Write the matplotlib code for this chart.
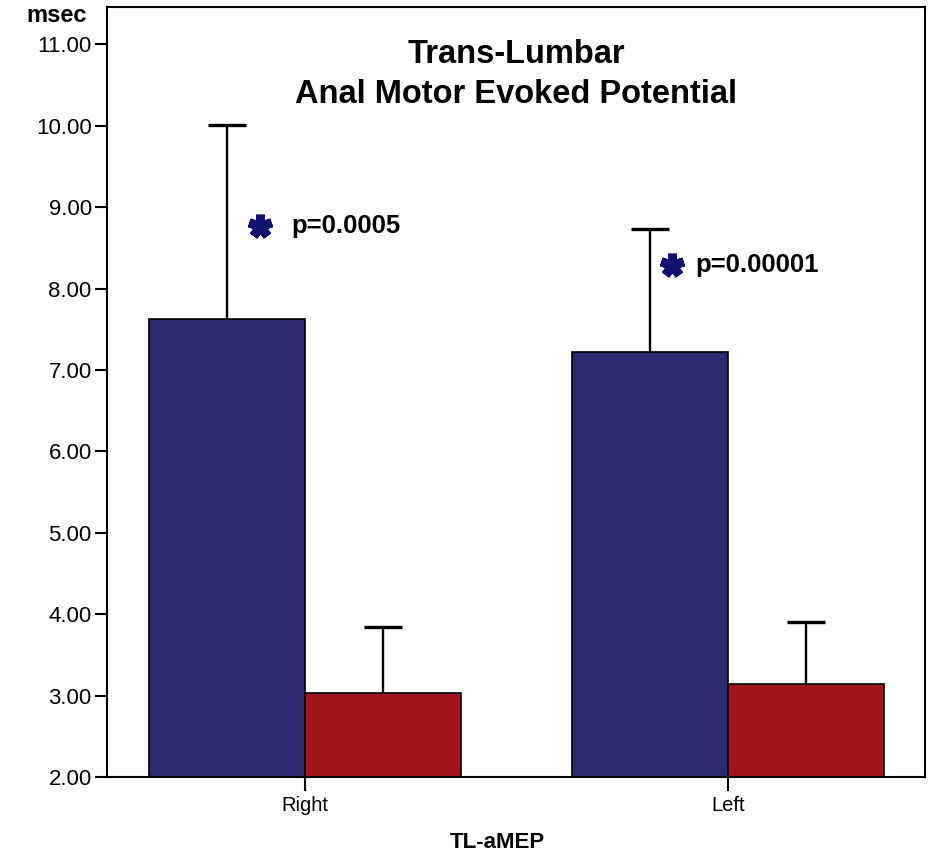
import numpy as np
import matplotlib
matplotlib.use("Agg")
from matplotlib import pyplot as plt

plt.rcParams['font.family'] = ['Liberation Sans', 'DejaVu Sans']

# data
sides = ['Right', 'Left']
pre_mean = [7.63, 7.22]     # blue bars
pre_err = [2.38, 1.51]
post_mean = [3.03, 3.14]    # red bars
post_err = [0.81, 0.76]
p_labels = ['p=0.0005', 'p=0.00001']
p_y = [8.77, 8.29]
yticks = [2, 3, 4, 5, 6, 7, 8, 9, 10, 11]

blue = '#2a2a70'
red = '#a3151b'
navy = '#10106e'

fig = plt.figure(figsize=(9.44, 8.57), dpi=100)
ax = fig.add_axes([107/944, 80/857, 818/944, 770/857])

x = np.arange(len(sides))
w = 0.369
ax.bar(x - w/2, pre_mean, w, color=blue, edgecolor='black', linewidth=1.2, zorder=2)
ax.bar(x + w/2, post_mean, w, color=red, edgecolor='black', linewidth=1.2, zorder=2)
# upper error bars only, hide the lower cap
for xs, m, e in [(x - w/2, pre_mean, pre_err), (x + w/2, post_mean, post_err)]:
    eb = ax.errorbar(xs, m, yerr=[np.zeros(2), e], fmt='none',
                     ecolor='black', elinewidth=1.7, capsize=14, capthick=2.4, zorder=3)
    for cl in eb[1]:
        if np.allclose(cl.get_ydata(), m):
            cl.set_visible(False)

# significance marks
star_dx = [-0.106, -0.132]
text_dx = [-0.031, -0.078]
for i in range(len(sides)):
    ax.plot(x[i] + star_dx[i], p_y[i], marker=(5, 2, 0), ms=17, mew=6.5,
            color=navy, zorder=4)
    ax.text(x[i] + text_dx[i], p_y[i], p_labels[i], fontsize=18.5,
            fontweight='bold', va='center', ha='left', zorder=4)

ax.set_xlim(-0.468, 1.466)
ax.set_ylim(2, 11.46)
ax.set_yticks(yticks)
ax.set_yticklabels(['%.2f' % t for t in yticks], fontsize=16)
ax.set_xticks(x)
ax.set_xticklabels(sides, fontsize=14.5)
ax.tick_params(axis='y', length=9, width=1.5, pad=2, colors='black')
ax.tick_params(axis='x', length=10, width=1.5, pad=4)
for s in ax.spines.values():
    s.set_linewidth(1.5)

ax.text(0.5, 0.9125, 'Trans-Lumbar\nAnal Motor Evoked Potential', transform=ax.transAxes,
        ha='center', va='center', fontsize=23.5, fontweight='bold', linespacing=1.39)

fig.text(57/944, 1 - 16/857, 'msec', ha='center', va='center', fontsize=17, fontweight='bold')
fig.text(497/944, 1 - 843/857, 'TL-aMEP', ha='center', va='center', fontsize=16, fontweight='bold')

fig.savefig('out.png', dpi=100)
